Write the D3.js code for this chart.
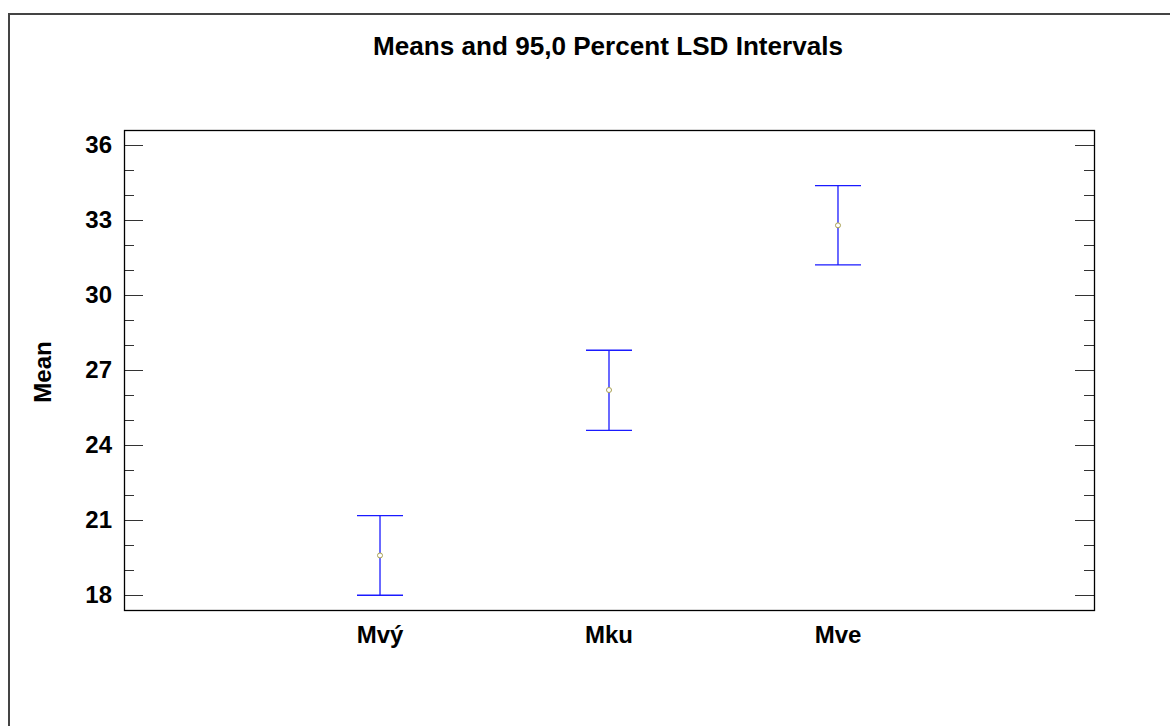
<!DOCTYPE html>
<html>
<head>
<meta charset="utf-8">
<script src="https://cdn.jsdelivr.net/npm/d3@7"></script>
<style>
  body { margin: 0; background: #fff; overflow: hidden; }
  svg { display: block; font-family: "Liberation Sans", Arial, sans-serif; }
</style>
</head>
<body>
<div id="chart"></div>
<script>
// Data
const categories = ["Mvý", "Mku", "Mve"];
const means = [19.58, 26.19, 32.77];
const lower = [17.99, 24.58, 31.19];
const upper = [21.17, 27.78, 34.36];
const yTicks = [18, 21, 24, 27, 30, 33, 36];

const width = 1170, height = 726;
const margin = { top: 130, right: 76, bottom: 116, left: 124 };
const innerWidth = width - margin.left - margin.right;
const innerHeight = height - margin.top - margin.bottom;

const data = categories.map((c, i) => ({ cat: c, mean: means[i], lo: lower[i], hi: upper[i] }));

const svg = d3.select("#chart")
  .append("svg")
  .attr("width", width)
  .attr("height", height);

// Outer frame (right and bottom edges fall outside the picture)
svg.append("path")
  .attr("d", `M${width},14H9V${height}`)
  .attr("fill", "none")
  .attr("stroke", "#444")
  .attr("stroke-width", 2);

// Title
svg.append("text")
  .attr("x", 608)
  .attr("y", 55)
  .attr("text-anchor", "middle")
  .attr("font-size", "25px")
  .attr("font-weight", "bold")
  .attr("textLength", 470)
  .attr("lengthAdjust", "spacingAndGlyphs")
  .text("Means and 95,0 Percent LSD Intervals");

const g = svg.append("g")
  .attr("transform", `translate(${margin.left},${margin.top})`);

// Scales
const xScale = d3.scalePoint()
  .domain(categories)
  .range([0, innerWidth])
  .padding(1.118);

const yScale = d3.scaleLinear()
  .domain([17.4, 36.58])
  .range([innerHeight, 0]);

// Tick marks only (no labels), pointing inward
const minor = d3.range(18, 37).filter(v => !yTicks.includes(v));
const tickMarks = (values, size, side) => {
  const x = side === "left" ? 0 : innerWidth;
  const dir = side === "left" ? 1 : -1;
  g.append("g")
    .selectAll("line")
    .data(values)
    .join("line")
    .attr("x1", x).attr("x2", x + dir * size)
    .attr("y1", d => Math.round(yScale(d)) + 0.5)
    .attr("y2", d => Math.round(yScale(d)) + 0.5)
    .attr("stroke", "#333")
    .attr("stroke-width", 1);
};
tickMarks(minor, 10, "left");
tickMarks(minor, 10, "right");
tickMarks(yTicks, 19, "left");
tickMarks(yTicks, 19, "right");

// Major tick labels on the left
const yAxis = g.append("g")
  .call(d3.axisLeft(yScale).tickValues(yTicks).tickSize(0).tickPadding(12).tickFormat(d3.format("d")));
yAxis.select(".domain").remove();
yAxis.selectAll("text")
  .attr("font-size", "24px")
  .attr("font-weight", "bold")
  .attr("fill", "#000")
  .attr("font-family", "Liberation Sans, Arial, sans-serif");

// Plot border
g.append("rect")
  .attr("x", 0.5).attr("y", 0.5)
  .attr("width", innerWidth).attr("height", innerHeight)
  .attr("fill", "none")
  .attr("stroke", "#000")
  .attr("stroke-width", 1.3);

// Category labels
g.selectAll(".cat-label")
  .data(categories)
  .join("text")
  .attr("class", "cat-label")
  .attr("x", d => xScale(d))
  .attr("y", 643 - margin.top)
  .attr("text-anchor", "middle")
  .attr("font-size", "24px")
  .attr("font-weight", "bold")
  .text(d => d);

// Y axis label
svg.append("text")
  .attr("transform", "rotate(-90)")
  .attr("x", -372)
  .attr("y", 51)
  .attr("text-anchor", "middle")
  .attr("font-size", "24px")
  .attr("font-weight", "bold")
  .text("Mean");

// Interval bars
const capHalf = 23;
const bars = g.selectAll(".interval")
  .data(data)
  .join("g")
  .attr("class", "interval")
  .attr("stroke", "#1a1aff")
  .attr("stroke-width", 1.3)
  .attr("fill", "none");

bars.append("line")
  .attr("x1", d => xScale(d.cat)).attr("x2", d => xScale(d.cat))
  .attr("y1", d => yScale(d.hi)).attr("y2", d => yScale(d.lo));

bars.append("line")
  .attr("x1", d => xScale(d.cat) - capHalf).attr("x2", d => xScale(d.cat) + capHalf)
  .attr("y1", d => yScale(d.hi)).attr("y2", d => yScale(d.hi));

bars.append("line")
  .attr("x1", d => xScale(d.cat) - capHalf).attr("x2", d => xScale(d.cat) + capHalf)
  .attr("y1", d => yScale(d.lo)).attr("y2", d => yScale(d.lo));

// Mean markers
g.selectAll(".mean")
  .data(data)
  .join("circle")
  .attr("class", "mean")
  .attr("cx", d => xScale(d.cat))
  .attr("cy", d => yScale(d.mean))
  .attr("r", 2.5)
  .attr("fill", "#fff")
  .attr("stroke", "#a8a050")
  .attr("stroke-width", 1);
</script>
</body>
</html>
